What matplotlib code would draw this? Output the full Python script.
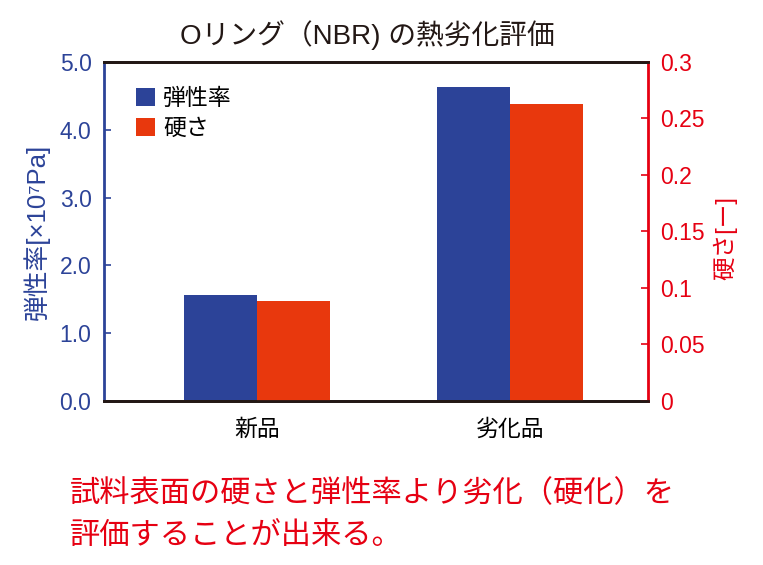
import matplotlib
matplotlib.use('Agg')
import matplotlib.pyplot as plt
import numpy as np

plt.rcParams['font.family'] = ['Liberation Sans', 'Noto Sans CJK JP', 'DejaVu Sans']

categories = ['新品', '劣化品']
modulus = [1.56, 4.63]        # 弾性率 [x10^7 Pa]
hardness = [0.0885, 0.263]    # 硬さ [-]
left_ticks = [0.0, 1.0, 2.0, 3.0, 4.0, 5.0]
right_ticks = [0, 0.05, 0.1, 0.15, 0.2, 0.25, 0.3]
right_labels = ['0', '0.05', '0.1', '0.15', '0.2', '0.25', '0.3']

blue = '#2c4398'
orange = '#e8380d'
red = '#e60012'
dark = '#231815'

fig = plt.figure(figsize=(7.63, 5.65), dpi=100)
ax = fig.add_axes([0.1363, 0.2903, 0.713, 0.600])
ax2 = ax.twinx()

x = np.arange(len(categories))
w = 0.29
b1 = ax.bar(x - w / 2, modulus, w, color=blue, label='弾性率')
b2 = ax2.bar(x + w / 2, hardness, w, color=orange, label='硬さ')

ax.set_xlim(-0.605, 1.545)
ax.set_ylim(0, 5.0)
ax2.set_ylim(0, 0.3)
ax.set_yticks(left_ticks)
ax.set_yticklabels(['%.1f' % v for v in left_ticks])
ax2.set_yticks(right_ticks)
ax2.set_yticklabels(right_labels)
ax.set_xticks(x)
ax.set_xticklabels(categories, fontsize=16.5)
ax.tick_params(axis='x', length=0, pad=12)

ax.tick_params(axis='y', direction='in', length=5, width=1.2, colors=blue,
               labelsize=16.5, pad=9)
ax2.tick_params(axis='y', direction='in', length=5, width=1.2, colors=red,
                labelsize=16.5, pad=9)

for a in (ax, ax2):
    for s in a.spines.values():
        s.set_linewidth(2)
    a.spines['top'].set_color(dark)
    a.spines['bottom'].set_color(dark)
ax.spines['right'].set_visible(False)
ax2.spines['left'].set_visible(False)
ax.spines['left'].set_color(blue)
ax2.spines['right'].set_color(red)

# axis titles placed in figure coords
fig.text(37 / 763, 1 - 232 / 565, '弾性率[×10⁷Pa]', color=blue, fontsize=18.5,
         rotation=90, ha='center', va='center')
fig.text(725 / 763, 1 - 238 / 565, '硬さ[ー]', color=red, fontsize=17,
         rotation=90, ha='center', va='center')

leg = ax.legend(handles=[b1, b2], loc='upper left', bbox_to_anchor=(0.02, 0.987),
                frameon=False, fontsize=16.5, handlelength=0.85, handleheight=0.85,
                handletextpad=0.35, labelspacing=0.3)

fig.text(367 / 763, 1 - 35 / 565, 'Oリング（NBR) の熱劣化評価', ha='center', va='center',
         fontsize=20, color=dark)

fig.text(70 / 763, 1 - 494 / 565, '試料表面の硬さと弾性率より劣化（硬化）を',
         ha='left', va='center', fontsize=21.8, color=red)
fig.text(70 / 763, 1 - 536 / 565, '評価することが出来る。',
         ha='left', va='center', fontsize=21.8, color=red)

fig.savefig('out.png', dpi=100)
